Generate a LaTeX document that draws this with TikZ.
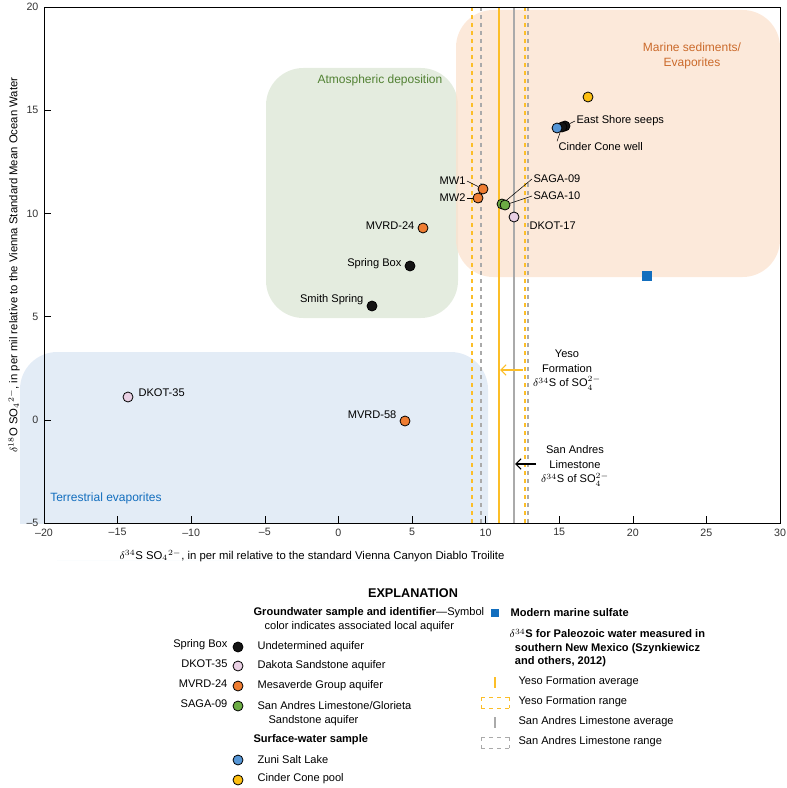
\documentclass[tikz,border=0pt]{standalone}
\usepackage{fontspec}
\setmainfont{Liberation Sans}
\usepackage{amsmath}
\usetikzlibrary{arrows.meta}
\definecolor{cBlack}{RGB}{20,20,20}
\definecolor{cPink}{RGB}{233,208,228}
\definecolor{cOrange}{RGB}{239,125,50}
\definecolor{cGreen}{RGB}{108,172,68}
\definecolor{cBlue}{RGB}{86,150,214}
\definecolor{cYellow}{RGB}{253,190,16}
\definecolor{cSquare}{RGB}{18,110,190}
\definecolor{cMarine}{RGB}{251,226,206}
\definecolor{cAtmo}{RGB}{214,226,206}
\definecolor{cTerr}{RGB}{220,231,244}
\definecolor{cYeso}{RGB}{252,190,40}
\definecolor{cSA}{RGB}{170,170,170}
\tikzset{
  pt/.style={circle,draw=black,line width=0.6pt,minimum size=7.5pt,inner sep=0pt},
  lbl/.style={inner sep=1pt,font=\fontsize{8.3}{10}\selectfont},
  lead/.style={line width=0.4pt},
  ticklbl/.style={inner sep=1pt,font=\fontsize{8}{9}\selectfont,text=black!80},
}
\begin{document}
\begin{tikzpicture}[x=0.75pt,y=0.75pt,yscale=-1,xscale=1]
\useasboundingbox (0,0) rectangle (786,788);

% fields
\fill[cTerr,opacity=0.8,rounded corners=28] (20,352) rectangle (488,560);
\fill[white] (0,524) rectangle (786,560);
\fill[cAtmo,opacity=0.65,rounded corners=28] (266,68) rectangle (458,318);
\fill[cMarine,opacity=0.75,rounded corners=28] (456,10) rectangle (780,277);
\node[lbl,font=\fontsize{9}{11}\selectfont,text=cOrange!85!black,align=center] at (692,56) {Marine sediments/\\Evaporites};
\node[lbl,font=\fontsize{9}{11}\selectfont,text=cGreen!75!black] at (380,80) {Atmospheric deposition};
\node[lbl,font=\fontsize{9}{11}\selectfont,text=cSquare] at (106,498) {Terrestrial evaporites};

% sulfur lines
\draw[cYeso,dashed,line width=0.8pt] (472,7) -- (472,523) (525,7) -- (525,523);
\draw[cSA,dashed,line width=0.8pt] (481,7) -- (481,523) (528,7) -- (528,523);
\draw[cYeso,line width=0.8pt] (499,7) -- (499,523);
\draw[cSA,line width=0.8pt] (514,7) -- (514,523);

% axes
\draw[line width=0.5pt] (44,7) rectangle (780,523);
\foreach \v [count=\i from 0] in {{\textendash20},{\textendash15},{\textendash10},{\textendash5},0,5,10,15,20,25,30} {
  \draw (44+73.6*\i,523) -- (44+73.6*\i,516);
  \node[ticklbl,anchor=north] at (44+73.6*\i,527) {\v};
}
\foreach \v [count=\i from 0] in {{\textendash5},0,5,10,15,20} {
  \draw (44,523-103.2*\i) -- (51,523-103.2*\i);
  \node[ticklbl,anchor=east] at (40,523-103.2*\i) {\v};
}
\node[lbl,font=\fontsize{8.5}{10}\selectfont] at (312,556) {$\delta^{34}$S SO$_4$$^{2-}$, in per mil relative to the standard Vienna Canyon Diablo Troilite};
\node[lbl,font=\fontsize{8.5}{10}\selectfont,rotate=90] at (14,265) {$\delta^{18}$O SO$_4$$^{2-}$, in per mil relative to the Vienna Standard Mean Ocean Water};

% arrows
\node[lbl,align=center,font=\fontsize{8.3}{11}\selectfont] (yeso) at (567,370) {Yeso\\Formation\\$\delta^{34}$S of SO$_4^{2-}$};
\coordinate (yesoA) at (500,370);
\draw[cYeso,-{Straight Barb[length=4pt]},line width=0.8pt] (523,370) -- (yesoA);
\node[lbl,align=center,font=\fontsize{8.3}{11}\selectfont] (sa) at (575,466) {San Andres\\Limestone\\$\delta^{34}$S of SO$_4^{2-}$};
\coordinate (saA) at (515,464);
\draw[-{Straight Barb[length=4pt]},line width=0.8pt] (536,464) -- (saA);

% data
\node[pt,fill=cPink] (dkot35) at (128,397) {};
\node[lbl,anchor=west] at (137,393) {DKOT-35};
\node[pt,fill=cOrange] (mvrd58) at (405,421) {};
\node[lbl,anchor=east] at (398,415) {MVRD-58};
\node[pt,fill=cBlack] (smith) at (372,306) {};
\node[lbl,anchor=east] at (365,300) {Smith Spring};
\node[pt,fill=cBlack] (springbox) at (410,266) {};
\node[lbl,anchor=east] at (403,264) {Spring Box};
\node[pt,fill=cOrange] (mvrd24) at (423,228) {};
\node[lbl,anchor=east] at (416,226) {MVRD-24};
\node[pt,fill=cOrange] (mw1) at (483,189) {};
\node[pt,fill=cOrange] (mw2) at (478,198) {};
\node[lbl,anchor=east] (mw1l) at (467,181) {MW1};
\node[lbl,anchor=east] (mw2l) at (467,198) {MW2};
\draw[lead] (mw1l.east) -- (mw1);
\draw[lead] (mw2l.east) -- (mw2);
\node[pt,fill=cGreen] (saga10) at (502,204) {};
\node[pt,fill=cGreen] (saga09) at (505,205) {};
\node[lbl,anchor=west] (saga09l) at (532,179) {SAGA-09};
\node[lbl,anchor=west] (saga10l) at (532,196) {SAGA-10};
\draw[lead] (saga09l.west) -- (saga10);
\draw[lead] (saga10l.west) -- (saga09);
\node[pt,fill=cPink] (dkot17) at (514,217) {};
\node[lbl,anchor=west] at (528,226) {DKOT-17};
\node[pt,fill=cBlack] (esb) at (565,126) {};
\node[pt,fill=cBlack] (esa) at (562,127) {};
\node[pt,fill=cBlue] (ccwell) at (557,128) {};
\node[lbl,anchor=west] (esl) at (575,121) {East Shore seeps};
\draw[lead] (esl.west) -- (esb);
\node[lbl,anchor=west] (ccwl) at (557,147) {Cinder Cone well};
\draw[lead] (ccwl.north west) -- (esa);
\node[pt,fill=cYellow] (ccpool) at (588,97) {};
\node[fill=cSquare,minimum size=7pt,inner sep=0pt] (marine) at (647,276) {};

% explanation
\node[font=\bfseries\fontsize{9.5}{11}\selectfont] at (413,593) {EXPLANATION};
\node[lbl,anchor=west] at (252,613) {\textbf{Groundwater sample and identifier}---Symbol};
\node[lbl,anchor=west] at (263,627) {color indicates associated local aquifer};
\foreach \y/\c/\id/\t in {647/cBlack/Spring Box/Undetermined aquifer,666/cPink/DKOT-35/Dakota Sandstone aquifer,686/cOrange/MVRD-24/Mesaverde Group aquifer,706/cGreen/SAGA-09/{San Andres Limestone/Glorieta}} {
  \node[pt,fill=\c] at (238,\y) {};
  \node[lbl,anchor=east] at (229,\y-2) {\id};
  \node[lbl,anchor=west] at (256,\y) {\t};
}
\node[lbl,anchor=west] at (267,721) {Sandstone aquifer};
\node[lbl,anchor=west] at (252,740) {\textbf{Surface-water sample}};
\node[pt,fill=cBlue] at (238,760) {};
\node[lbl,anchor=west] at (256,760) {Zuni Salt Lake};
\node[pt,fill=cYellow] at (238,780) {};
\node[lbl,anchor=west] at (256,779) {Cinder Cone pool};

\node[fill=cSquare,minimum size=6.5pt,inner sep=0pt] at (495,613) {};
\node[lbl,anchor=west] at (509,613) {\textbf{Modern marine sulfate}};
\node[lbl,anchor=west,align=left] at (508,648) {$\delta^{34}$\textbf{S for Paleozoic water measured in}\\\hspace*{4pt}\textbf{southern New Mexico (Szynkiewicz}\\\hspace*{4pt}\textbf{and others, 2012)}};
\draw[cYeso,line width=0.9pt] (495,677) -- (495,688);
\draw[cYeso,dashed,line width=0.7pt] (481,697) -- (509,697) (481,708) -- (509,708) (481,697) -- (481,708) (509,697) -- (509,708);
\draw[cSA,line width=0.9pt] (495,717) -- (495,728);
\draw[cSA,dashed,line width=0.7pt] (481,737) -- (509,737) (481,748) -- (509,748) (481,737) -- (481,748) (509,737) -- (509,748);
\node[lbl,anchor=west] at (517,682) {Yeso Formation average};
\node[lbl,anchor=west] at (517,702) {Yeso Formation range};
\node[lbl,anchor=west] at (517,722) {San Andres Limestone average};
\node[lbl,anchor=west] at (517,742) {San Andres Limestone range};
\end{tikzpicture}
\end{document}
